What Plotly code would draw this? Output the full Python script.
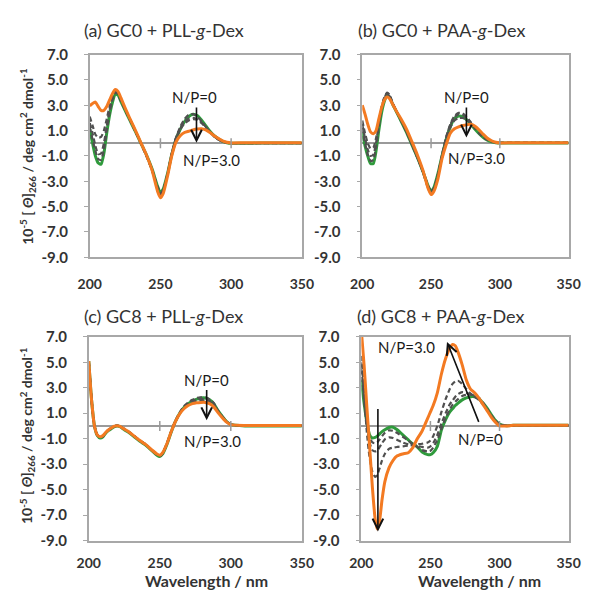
import plotly.graph_objects as go
from plotly.subplots import make_subplots

# ---------------- data ----------------
wl = [200, 202, 204, 206, 208, 210, 212, 214, 216, 218, 220, 222, 225, 228, 232, 236, 240, 244,
      248, 250, 252, 255, 258, 261, 264, 267, 270, 273, 276, 279, 282, 285, 288, 291, 294, 297,
      300, 310, 320, 330, 340, 350]

# (a) GC0 + PLL-g-Dex
a_np0 = [1.1, 0.0, -1.0, -1.55, -1.65, -0.8, 0.8, 2.2, 3.2, 3.85, 3.8, 3.3, 2.6, 1.9, 1.0, 0.05, -0.9, -2.0,
         -3.4, -3.9, -3.6, -2.4, -0.9, 0.3, 1.1, 1.7, 2.1, 2.3, 2.2, 1.85, 1.4, 0.95, 0.6, 0.35, 0.15, 0.05,
         0.0, 0.0, 0.02, 0.02, 0.03, 0.03]
a_np05 = [1.3, 0.3, -0.6, -1.25, -1.3, -0.5, 1.0, 2.4, 3.4, 4.0, 3.9, 3.4, 2.65, 1.95, 1.0, 0.05, -0.95, -2.05,
          -3.45, -3.95, -3.65, -2.4, -0.8, 0.45, 1.3, 1.9, 2.25, 2.3, 2.1, 1.75, 1.3, 0.9, 0.55, 0.3, 0.15, 0.05,
          0.02, 0.02, 0.02, 0.02, 0.02, 0.02]
a_np1 = [1.6, 0.8, -0.2, -0.85, -0.8, 0.0, 1.3, 2.6, 3.5, 4.0, 3.9, 3.4, 2.7, 2.0, 1.05, 0.05, -0.95, -2.1,
         -3.5, -4.0, -3.7, -2.5, -0.9, 0.35, 1.15, 1.7, 1.95, 2.0, 1.9, 1.65, 1.3, 0.9, 0.55, 0.3, 0.15, 0.05,
         0.02, 0.02, 0.02, 0.02, 0.02, 0.02]
a_np2 = [2.1, 1.4, 0.7, 0.45, 0.5, 1.0, 1.9, 2.9, 3.6, 4.05, 3.95, 3.4, 2.7, 2.0, 1.05, 0.05, -0.95, -2.1,
         -3.55, -4.05, -3.75, -2.5, -0.8, 0.4, 1.1, 1.55, 1.8, 1.9, 1.85, 1.6, 1.25, 0.9, 0.55, 0.3, 0.15, 0.05,
         0.02, 0.02, 0.02, 0.02, 0.02, 0.02]
a_np3 = [2.95, 3.15, 3.25, 2.9, 2.6, 2.6, 2.9, 3.4, 3.9, 4.25, 4.1, 3.6, 2.8, 2.05, 1.1, 0.1, -0.9, -2.1,
         -3.8, -4.3, -3.95, -2.6, -1.0, 0.1, 0.6, 0.85, 0.95, 1.05, 1.12, 1.15, 1.05, 0.85, 0.6, 0.38, 0.2, 0.08,
         0.03, 0.05, 0.05, 0.05, 0.05, 0.05]

# (b) GC0 + PAA-g-Dex
b_np0 = [0.85, -0.2, -1.0, -1.6, -1.6, -0.6, 1.0, 2.4, 3.3, 3.8, 3.6, 3.1, 2.45, 1.8, 0.9, -0.1, -1.1, -2.2,
         -3.4, -3.75, -3.5, -2.4, -1.0, 0.3, 1.3, 1.95, 2.15, 2.1, 1.85, 1.5, 1.1, 0.75, 0.45, 0.25, 0.12, 0.05,
         0.02, 0.02, 0.02, 0.02, 0.02, 0.02]
b_np05 = [1.2, 0.0, -0.9, -1.4, -1.3, -0.3, 1.3, 2.7, 3.6, 4.0, 3.8, 3.2, 2.5, 1.85, 0.95, -0.05, -1.1, -2.2,
          -3.4, -3.8, -3.55, -2.45, -0.9, 0.5, 1.5, 2.15, 2.4, 2.35, 2.05, 1.65, 1.2, 0.8, 0.5, 0.28, 0.14, 0.06,
          0.03, 0.03, 0.03, 0.03, 0.03, 0.03]
b_np1 = [1.5, 0.4, -0.5, -1.0, -0.9, 0.0, 1.5, 2.8, 3.6, 3.95, 3.75, 3.2, 2.5, 1.85, 0.95, -0.05, -1.1, -2.2,
         -3.45, -3.85, -3.6, -2.5, -0.95, 0.45, 1.45, 2.05, 2.3, 2.25, 2.0, 1.6, 1.2, 0.8, 0.5, 0.28, 0.14, 0.06,
         0.03, 0.03, 0.03, 0.03, 0.03, 0.03]
b_np2 = [1.8, 0.8, 0.0, -0.4, -0.35, 0.4, 1.7, 2.8, 3.5, 3.85, 3.7, 3.15, 2.5, 1.85, 0.95, -0.05, -1.1, -2.25,
         -3.6, -3.95, -3.7, -2.6, -1.05, 0.3, 1.25, 1.8, 2.0, 2.0, 1.85, 1.55, 1.2, 0.8, 0.5, 0.28, 0.14, 0.06,
         0.03, 0.03, 0.03, 0.03, 0.03, 0.03]
b_np3 = [3.0, 2.3, 1.5, 0.9, 0.75, 1.0, 1.9, 2.8, 3.4, 3.65, 3.5, 3.1, 2.5, 1.95, 1.15, 0.15, -0.9, -2.1,
         -3.6, -4.05, -3.8, -2.8, -1.2, -0.1, 0.8, 1.15, 1.3, 1.4, 1.47, 1.5, 1.35, 1.05, 0.7, 0.4, 0.2, 0.08,
         0.03, 0.05, 0.05, 0.05, 0.05, 0.05]

# (c) GC8 + PLL-g-Dex
c_np0 = [5.1, 2.0, 0.0, -0.75, -0.95, -0.85, -0.55, -0.35, -0.2, -0.05, 0.0, -0.05, -0.3, -0.5, -0.85, -1.2,
         -1.5, -1.9, -2.3, -2.4, -2.2, -1.45, -0.5, 0.35, 1.0, 1.45, 1.75, 1.95, 2.1, 2.2, 2.2, 2.05, 1.75, 1.2,
         0.75, 0.35, 0.12, 0.0, 0.0, 0.0, 0.0, 0.0]
c_np05 = [5.1, 2.0, 0.0, -0.7, -0.9, -0.8, -0.5, -0.3, -0.15, -0.02, 0.02, -0.03, -0.25, -0.45, -0.8, -1.15,
          -1.45, -1.85, -2.25, -2.35, -2.15, -1.4, -0.45, 0.4, 1.05, 1.55, 1.85, 2.05, 2.2, 2.25, 2.25, 2.1,
          1.8, 1.2, 0.75, 0.35, 0.12, 0.02, 0.02, 0.02, 0.02, 0.02]
c_np1 = [5.1, 2.0, 0.0, -0.7, -0.9, -0.8, -0.5, -0.3, -0.15, -0.02, 0.02, -0.03, -0.25, -0.45, -0.8, -1.15,
         -1.45, -1.85, -2.25, -2.35, -2.15, -1.4, -0.45, 0.35, 1.0, 1.45, 1.75, 1.95, 2.05, 2.1, 2.1, 2.0,
         1.7, 1.15, 0.72, 0.33, 0.12, 0.02, 0.02, 0.02, 0.02, 0.02]
c_np2 = [5.1, 2.0, 0.0, -0.7, -0.9, -0.8, -0.5, -0.3, -0.15, -0.02, 0.02, -0.03, -0.25, -0.45, -0.8, -1.15,
         -1.45, -1.85, -2.25, -2.35, -2.15, -1.4, -0.45, 0.35, 1.0, 1.4, 1.7, 1.85, 1.95, 2.0, 2.0, 1.9,
         1.6, 1.1, 0.7, 0.32, 0.11, 0.02, 0.02, 0.02, 0.02, 0.02]
c_np3 = [5.1, 2.0, 0.0, -0.7, -0.85, -0.75, -0.5, -0.3, -0.15, -0.02, 0.02, -0.03, -0.25, -0.45, -0.8, -1.15,
         -1.45, -1.85, -2.2, -2.3, -2.1, -1.4, -0.45, 0.35, 0.95, 1.35, 1.6, 1.75, 1.82, 1.85, 1.85, 1.75,
         1.5, 1.05, 0.65, 0.3, 0.1, 0.03, 0.03, 0.03, 0.03, 0.03]

# (d) GC8 + PAA-g-Dex
wl_d = [200, 202, 204, 206, 208, 210, 211.5, 213, 215, 217, 220, 223, 226, 230, 234, 237, 240, 244, 248,
        250, 252, 255, 258, 261, 264, 266, 268, 270, 273, 276, 279, 282, 285, 288, 291, 294, 297, 300, 305,
        310, 320, 330, 340, 350]
d_np0 = [3.6, 1.8, 0.3, -0.7, -0.95, -0.9, -0.8, -0.65, -0.45, -0.3, -0.12, -0.1, -0.3, -0.7, -1.1, -1.4,
         -1.6, -2.05, -2.25, -2.25, -2.1, -1.6, -0.3, 0.5, 1.1, 1.35, 1.6, 1.8, 2.05, 2.2, 2.3, 2.3, 2.15, 1.8,
         1.4, 0.9, 0.45, 0.15, 0.02, 0.05, 0.05, 0.05, 0.05, 0.05]
d_np05 = [4.5, 2.2, 0.2, -0.9, -1.3, -1.35, -1.3, -1.1, -0.8, -0.55, -0.35, -0.38, -0.55, -0.85, -1.15, -1.4,
          -1.6, -1.9, -2.0, -1.95, -1.7, -1.1, -0.2, 0.6, 1.3, 1.65, 1.9, 2.1, 2.35, 2.45, 2.45, 2.4, 2.2, 1.85,
          1.35, 0.85, 0.4, 0.15, 0.03, 0.05, 0.05, 0.05, 0.05, 0.05]
d_np1 = [5.0, 2.3, 0.0, -1.3, -1.9, -2.0, -1.95, -1.7, -1.35, -1.05, -0.9, -0.95, -1.1, -1.3, -1.45, -1.5,
         -1.55, -1.65, -1.7, -1.6, -1.35, -0.7, 0.2, 1.0, 1.7, 2.0, 2.3, 2.5, 2.65, 2.6, 2.45, 2.3, 2.1, 1.75,
         1.3, 0.8, 0.4, 0.12, 0.03, 0.05, 0.05, 0.05, 0.05, 0.05]
d_np2 = [5.5, 2.5, -0.5, -2.5, -3.6, -4.0, -3.85, -3.4, -2.7, -2.2, -1.8, -1.7, -1.65, -1.6, -1.55, -1.5,
         -1.45, -1.4, -1.3, -1.15, -0.8, 0.0, 1.1, 2.1, 2.9, 3.3, 3.5, 3.55, 3.3, 2.9, 2.55, 2.3, 2.05, 1.7,
         1.25, 0.75, 0.35, 0.1, 0.03, 0.05, 0.05, 0.05, 0.05, 0.05]
d_np3 = [7.5, 4.8, 1.5, -1.6, -4.8, -7.3, -8.1, -7.6, -5.8, -4.4, -3.3, -2.7, -2.35, -2.2, -2.1, -1.75,
         -1.1, -0.4, 0.6, 1.1, 1.6, 2.6, 4.1, 5.3, 6.1, 6.4, 6.3, 5.8, 4.8, 3.6, 2.9, 2.6, 2.2, 1.7, 1.2, 0.7,
         0.3, 0.0, 0.0, 0.05, 0.05, 0.05, 0.05, 0.05]

x_ticks = [200, 250, 300, 350]
x_labels = ["200", "250", "300", "350"]
y_ticks = [-9, -7, -5, -3, -1, 1, 3, 5, 7]
y_labels = ["-9.0", "-7.0", "-5.0", "-3.0", "-1.0", "1.0", "3.0", "5.0", "7.0"]

titles = ["(a) GC0 + PLL-<i>g</i>-Dex", "(b) GC0 + PAA-<i>g</i>-Dex",
          "(c) GC8 + PLL-<i>g</i>-Dex", "(d) GC8 + PAA-<i>g</i>-Dex"]

panels = [
    (wl, [a_np0, a_np05, a_np1, a_np2, a_np3]),
    (wl, [b_np0, b_np05, b_np1, b_np2, b_np3]),
    (wl, [c_np0, c_np05, c_np1, c_np2, c_np3]),
    (wl_d, [d_np0, d_np05, d_np1, d_np2, d_np3]),
]

# ---------------- figure ----------------
W, H = 595, 597
def px(x):
    return x / W
def py(y):
    return 1 - y / H

GREEN = "#2f9a3c"
ORANGE = "#f37a22"
DASH = "#505050"
FONT = "Lato"

fig = make_subplots(rows=2, cols=2)

pos = [(1, 1), (1, 2), (2, 1), (2, 2)]
for (r, c), (xs, series) in zip(pos, panels):
    styles = [
        dict(color=GREEN, width=3),
        dict(color=DASH, width=2.2, dash="5px,3px"),
        dict(color=DASH, width=2.2, dash="5px,3px"),
        dict(color=DASH, width=2.2, dash="5px,3px"),
        dict(color=ORANGE, width=3),
    ]
    for ys, st in zip(series, styles):
        fig.add_trace(go.Scatter(x=xs, y=ys, mode="lines", line=dict(shape="spline", smoothing=0.6, **st),
                                 showlegend=False, hoverinfo="skip"), row=r, col=c)

domains = {
    1: ([px(81), px(302)], [py(255), py(46)]),
    2: ([px(365), px(580)], [py(255), py(46)]),
    3: ([px(80), px(302)], [py(547), py(337)]),
    4: ([px(364), px(580)], [py(547), py(337)]),
}
for i in range(1, 5):
    xd, yd = domains[i]
    xa = "xaxis" if i == 1 else f"xaxis{i}"
    ya = "yaxis" if i == 1 else f"yaxis{i}"
    fig.layout[xa].update(domain=xd, range=[200, 350], tickvals=x_ticks, ticktext=x_labels,
                          showline=True, mirror=True, linecolor="#a8a8a8", linewidth=1.5,
                          showgrid=False, zeroline=False, ticks="", ticklabelstandoff=13 if i <= 2 else 9,
                          tickfont=dict(family=FONT, size=14, color="#333333", weight="bold"))
    fig.layout[ya].update(domain=yd, range=[-9, 7], tickvals=y_ticks, ticktext=y_labels,
                          showline=True, mirror=True, linecolor="#a8a8a8", linewidth=1.5,
                          showgrid=False, zeroline=True, zerolinecolor="#9a9a9a", zerolinewidth=1.5,
                          ticks="outside", ticklen=4, tickcolor="#a8a8a8", ticklabelstandoff=13,
                          tickfont=dict(family=FONT, size=15, color="#333333", weight="bold"))
    xr = "x" if i == 1 else f"x{i}"
    yr = "y" if i == 1 else f"y{i}"
    for xv in [250, 300]:
        fig.add_shape(type="line", xref=xr, yref=yr, x0=xv, x1=xv, ysizemode="pixel", yanchor=0,
                      y0=-5, y1=5, line=dict(color="#9a9a9a", width=1.5))

annotations = []
# titles
title_pos = [(158, 21), (448, 21), (158, 315), (446, 315)]
for t, (tx, ty) in zip(titles, title_pos):
    annotations.append(dict(text=t, x=px(tx), y=py(ty), xref="paper", yref="paper", showarrow=False,
                            font=dict(family=FONT, size=18, color="#333333"), xanchor="center", yanchor="middle"))

# y-axis titles
ylab = "10<sup>-5</sup> [ <i>Θ</i>]<sub>266</sub> / deg cm<sup>2</sup> dmol<sup>-1</sup>"
for cy in [151, 439]:
    annotations.append(dict(text=ylab, x=px(16), y=py(cy), xref="paper", yref="paper", showarrow=False,
                            textangle=-90, font=dict(family=FONT, size=14, color="#333333", weight="bold"),
                            xanchor="center", yanchor="middle"))
# x-axis titles
for cx in [203, 487]:
    annotations.append(dict(text="Wavelength / nm", x=px(cx), y=py(588), xref="paper", yref="paper",
                            showarrow=False, font=dict(family=FONT, size=16, color="#333333", weight="bold"),
                            xanchor="center", yanchor="middle", borderpad=0))

lab_font = dict(family=FONT, size=15, color="#1a1a1a")
# panel labels and arrows
labels = [
    ("x", "y", "N/P=0", 274, 3.65), ("x", "y", "N/P=3.0", 286, -1.3),
    ("x2", "y2", "N/P=0", 276, 3.65), ("x2", "y2", "N/P=3.0", 283, -1.2),
    ("x3", "y3", "N/P=0", 283, 3.6), ("x3", "y3", "N/P=3.0", 287, -1.2),
    ("x4", "y4", "N/P=3.0", 233, 6.2), ("x4", "y4", "N/P=0", 286, -1.0),
]
for xr, yr, t, lx, ly in labels:
    annotations.append(dict(text=t, x=lx, y=ly, xref=xr, yref=yr, showarrow=False, font=lab_font,
                            xanchor="center", yanchor="middle"))

arrows = [
    ("x", "y", 275.5, 2.95, 275.5, 0.05),
    ("x2", "y2", 275.7, 2.95, 275.7, 0.45),
    ("x3", "y3", 283, 2.95, 283, 0.45),
    ("x4", "y4", 212, 1.45, 212, -8.3),
    ("x4", "y4", 285.4, 0.2, 262, 6.6),
]
for xr, yr, x0, y0, x1, y1 in arrows:
    annotations.append(dict(x=x1, y=y1, ax=x0, ay=y0, xref=xr, yref=yr, axref=xr, ayref=yr, text="",
                            showarrow=True, arrowhead=5, arrowsize=1.3, arrowwidth=1.6, arrowcolor="#111111"))

fig.update_layout(width=W, height=H, margin=dict(l=0, r=0, t=0, b=0), plot_bgcolor="white",
                  paper_bgcolor="white", annotations=annotations, showlegend=False)

fig.write_html("out.html")
